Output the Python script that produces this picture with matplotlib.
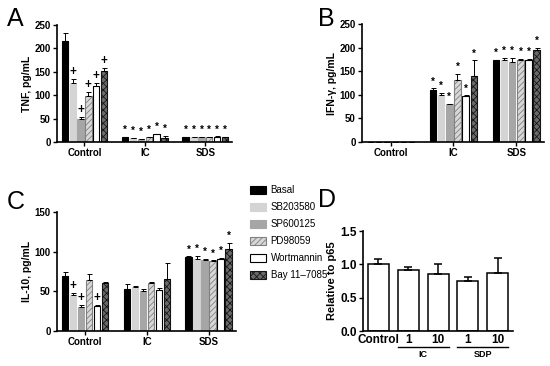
import matplotlib
matplotlib.use('Agg')
import matplotlib.pyplot as plt
import numpy as np

plt.rcParams['font.family'] = ['Liberation Sans', 'DejaVu Sans']
plt.rcParams['hatch.linewidth'] = 0.6

groups = ['Control', 'IC', 'SDS']
treatments = ['Basal', 'SB203580', 'SP600125', 'PD98059', 'Wortmannin', 'Bay 11\u20137085']

# значения по группам (строки) и обработкам (столбцы)
tnf = [[215, 126, 49, 98, 120, 152],
       [10, 8, 6, 10, 17, 9],
       [10, 10, 10, 10, 11, 10]]
tnf_err = [[17, 9, 5, 8, 7, 7],
           [1, 1, 1, 1, 1, 4],
           [1, 1, 1, 1, 1, 1]]
tnf_marks = [['', '+', '+', '+', '+', '+'],
             ['*'] * 6,
             ['*'] * 6]

ifn = [[0, 0, 0, 0, 0, 0],
       [110, 100, 80, 132, 97, 140],
       [173, 174, 170, 173, 173, 195]]
ifn_err = [[0, 0, 0, 0, 0, 0],
           [4, 5, 1, 13, 2, 33],
           [1, 4, 8, 3, 3, 5]]
ifn_marks = [[''] * 6, ['*'] * 6, ['*'] * 6]

il10 = [[70, 46, 30, 64, 31, 60],
        [53, 56, 51, 60, 52, 66],
        [93, 91, 90, 88, 91, 103]]
il10_err = [[4, 2, 3, 8, 2, 2],
            [6, 1, 2, 2, 2, 20],
            [1, 4, 1, 1, 1, 8]]
il10_marks = [['', '+', '+', '', '+', ''],
              [''] * 6,
              ['*'] * 6]

d_labels = ['Control', '1', '10', '1', '10']
d_values = [1.0, 0.91, 0.85, 0.75, 0.87]
d_err = [0.08, 0.05, 0.16, 0.06, 0.22]

styles = [
    dict(color='black', edgecolor='black'),
    dict(color='#d4d4d4', edgecolor='#d4d4d4'),
    dict(color='#a6a6a6', edgecolor='#a6a6a6'),
    dict(color='#d8d8d8', edgecolor='#808080', hatch='//////'),
    dict(color='white', edgecolor='black'),
    dict(color='#6a6a6a', edgecolor='#151515', hatch='xxxxx'),
]


def style_axes(ax, size=7):
    ax.spines['top'].set_visible(False)
    ax.spines['right'].set_visible(False)
    for s in ['left', 'bottom']:
        ax.spines[s].set_linewidth(1.2)
    ax.tick_params(axis='both', width=1.0, length=3, labelsize=size, pad=1.5)
    for lab in ax.get_xticklabels() + ax.get_yticklabels():
        lab.set_fontweight('bold')


def grouped(ax, vals, errs, marks, ymax, ystep, ylabel):
    vals = np.array(vals)
    errs = np.array(errs)
    x = np.arange(len(groups))
    slot = 0.13
    handles = []
    for j in range(len(treatments)):
        xs = x + (j - 2.5) * slot
        b = ax.bar(xs, vals[:, j], width=0.105, linewidth=0.8, label=treatments[j], **styles[j])
        handles.append(b)
        ax.errorbar(xs, vals[:, j], yerr=[np.zeros(len(x)), errs[:, j]], fmt='none',
                    ecolor='black', elinewidth=0.7, capsize=1.8, capthick=0.7)
        for i in range(len(groups)):
            m = marks[i][j]
            if m:
                top = vals[i, j] + errs[i, j]
                off = ymax * 0.015 if m == '*' else ymax * 0.008
                ax.text(xs[i], top + off, m, ha='center', va='bottom',
                        fontsize=8.5 if m == '+' else 7, fontweight='bold')
    ax.set_xlim(-0.455, 2.44)
    ax.set_ylim(0, ymax)
    ax.set_yticks(np.arange(0, ymax + 1, ystep))
    ax.set_xticks(x)
    ax.set_xticklabels(groups)
    ax.set_ylabel(ylabel, fontsize=7.5, fontweight='bold', labelpad=2)
    style_axes(ax)
    return handles


fig = plt.figure(figsize=(5.5, 3.66), dpi=100)

axA = fig.add_axes([0.1036, 0.612, 0.318, 0.320])
grouped(axA, tnf, tnf_err, tnf_marks, 250, 50, 'TNF, pg/mL')

axB = fig.add_axes([0.658, 0.612, 0.331, 0.322])
grouped(axB, ifn, ifn_err, ifn_marks, 250, 50, 'IFN-\u03b3, pg/mL')

axC = fig.add_axes([0.1036, 0.0956, 0.325, 0.325])
handles = grouped(axC, il10, il10_err, il10_marks, 150, 50, 'IL-10, pg/mL')

fig.legend(handles, treatments, loc='upper left', bbox_to_anchor=(0.448, 0.505),
           frameon=False, fontsize=7, handlelength=1.6, handleheight=0.9,
           labelspacing=0.72, handletextpad=0.5, borderaxespad=0)

# панель D
axD = fig.add_axes([0.66, 0.0956, 0.273, 0.273])
xd = np.arange(len(d_values))
axD.bar(xd, d_values, width=0.7, color='white', edgecolor='black', linewidth=1.1)
axD.errorbar(xd, d_values, yerr=[np.zeros(len(xd)), d_err], fmt='none',
             ecolor='black', elinewidth=1.1, capsize=3, capthick=1.1)
axD.set_xlim(-0.52, 4.52)
axD.set_ylim(0, 1.5)
axD.set_yticks([0.0, 0.5, 1.0, 1.5])
axD.set_xticks(xd)
axD.set_xticklabels(d_labels)
axD.set_ylabel('Relative to p65', fontsize=8, fontweight='bold', labelpad=2)
style_axes(axD, size=8.5)
axD.tick_params(axis='x', length=0, pad=2)

for (a, b), name in [((1, 2), 'IC'), ((3, 4), 'SDP')]:
    axD.plot([a - 0.35, b + 0.35], [-0.24, -0.24], color='black', lw=1.0,
             clip_on=False)
    axD.text((a + b) / 2, -0.28, name, ha='center', va='top', fontsize=6.5,
             fontweight='bold')

for letter, (x, y) in zip('ABCD', [(0.012, 0.93), (0.578, 0.93), (0.012, 0.43), (0.578, 0.435)]):
    fig.text(x, y, letter, fontsize=18)

plt.savefig('out.png', dpi=100)
plt.close(fig)
